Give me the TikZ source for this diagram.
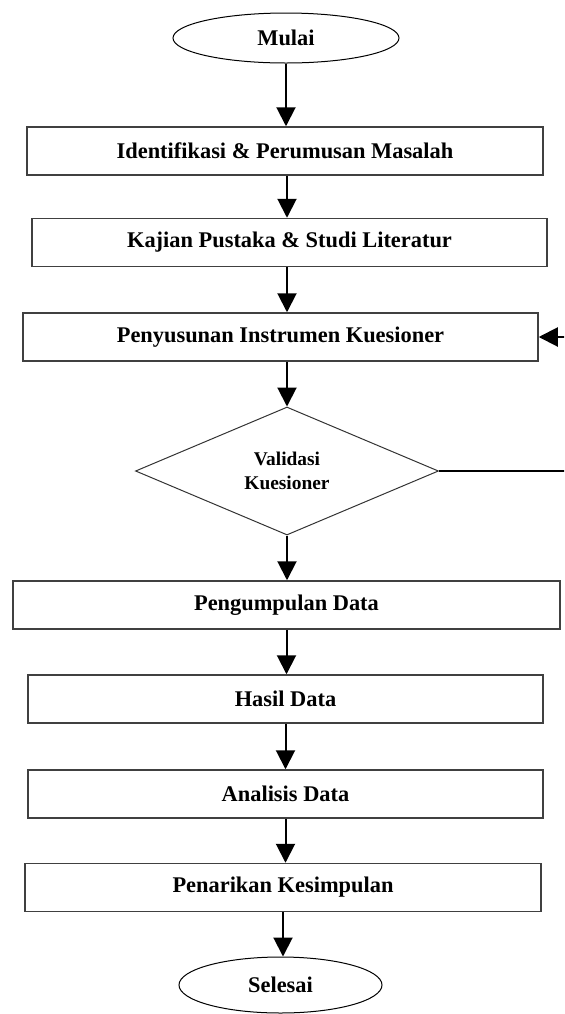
\documentclass[tikz,border=0pt]{standalone}
\usepackage{fontspec}
\setmainfont{Liberation Serif}
\usetikzlibrary{shapes.geometric,arrows.meta}

\begin{document}
\begin{tikzpicture}[
    x=0.5pt, y=-0.5pt,
    % kotak proses
    kotak/.style={rectangle, draw=black!75, line width=0.75pt, minimum height=24pt, inner sep=0pt, font=\bfseries\fontsize{11.2}{13.4}\selectfont},
    % terminal mulai / selesai
    elips/.style={ellipse, draw=black, line width=0.5pt, inner sep=0pt, font=\bfseries\fontsize{11.2}{13.4}\selectfont},
    % keputusan
    belahKetupat/.style={diamond, draw=black!80, line width=0.5pt, shape aspect=2.4, minimum width=151.5pt, minimum height=64pt, inner sep=0pt, align=center, font=\bfseries\fontsize{9.7}{12}\selectfont},
    panah/.style={-{Triangle[length=9.5pt,width=9.5pt]}, line width=1pt}
]
    \clip (0,0) rectangle (564,1014);

    % --- SIMPUL ---
    \node[elips, minimum width=113pt, minimum height=25pt] (mul) at (286,38) {Mulai};
    \node[kotak, minimum width=258pt] (idn) at (285,151) {Identifikasi \& Perumusan Masalah};
    \node[kotak, minimum width=257.5pt] (kaj) at (289.5,242.5) {Kajian Pustaka \& Studi Literatur};
    \node[kotak, minimum width=257.5pt] (sus) at (280.5,337) {Penyusunan Instrumen Kuesioner};
    \node[belahKetupat] (val) at (287,471) {Validasi\\Kuesioner};
    \node[kotak, minimum width=273.5pt] (kum) at (286.5,605) {Pengumpulan Data};
    \node[kotak, minimum width=257.5pt] (has) at (285.5,699) {Hasil Data};
    \node[kotak, minimum width=257.5pt] (ana) at (285.5,794) {Analisis Data};
    \node[kotak, minimum width=258pt] (tar) at (283,887.5) {Penarikan Kesimpulan};
    \node[elips, minimum width=101.5pt, minimum height=28pt] (sel) at (280.5,985) {Selesai};

    % titik balik di luar gambar
    \coordinate (balik) at (600,400);

    % --- ALUR ---
    \draw[panah] (mul.south) -- (mul.south |- idn.north);
    \draw[panah] (idn.south -| val) -- (kaj.north -| val);
    \draw[panah] (kaj.south -| val) -- (sus.north -| val);
    \draw[panah] (sus.south -| val) -- (val.north);
    \draw[panah] (val.south) -- (val.south |- kum.north);
    \draw[panah] (kum.south) -- (kum.south |- has.north);
    \draw[panah] (has.south) -- (has.south |- ana.north);
    \draw[panah] (ana.south) -- (ana.south |- tar.north);
    \draw[panah] (tar.south) -- (tar.south |- sel.north);

    % --- UMPAN BALIK ---
    \draw[panah] (val.east) -- (val.east -| balik) |- (sus.east);

\end{tikzpicture}
\end{document}
